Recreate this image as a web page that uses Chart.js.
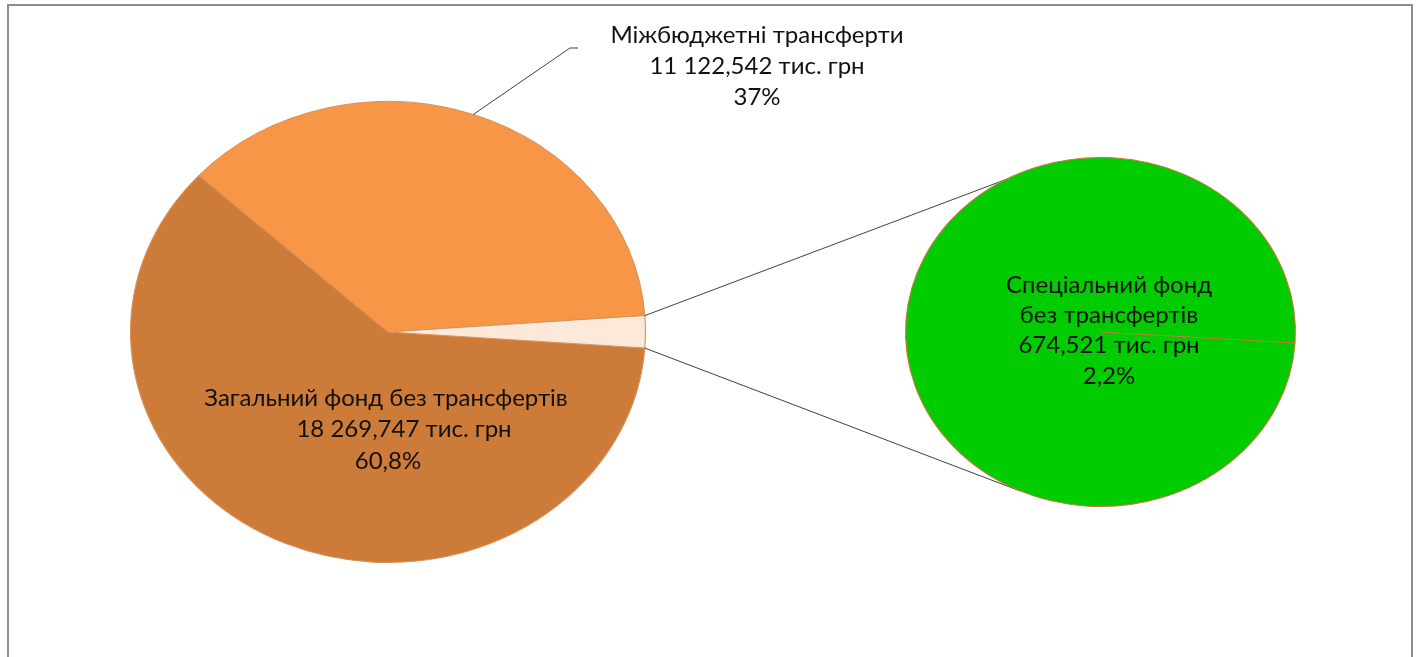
<!DOCTYPE html>
<html lang="uk">
<head>
<meta charset="utf-8">
<script src="https://cdn.jsdelivr.net/npm/chart.js@4"></script>
<style>
  html, body { margin:0; padding:0; background:#fff; overflow:hidden; }
  #wrap { position:relative; width:1421px; height:657px; }
  #wrap canvas { position:absolute; left:0; top:0; }
  #ramka { position:absolute; left:7px; top:4px; width:1406px; height:720px; border:2px solid #8c8c8c; box-sizing:border-box; }
</style>
</head>
<body>
<div id="wrap">
  <div id="ramka"></div>
  <canvas id="pieLeft" width="1421" height="657"></canvas>
  <canvas id="pieRight" width="1421" height="657"></canvas>
</div>
<script>
// дані
const categories = ['Загальний фонд без трансфертів', 'Міжбюджетні трансферти', 'Спеціальний фонд без трансфертів'];
const values = [18269.747, 11122.542, 674.521];
const valueLabels = ['18 269,747 тис. грн', '11 122,542 тис. грн', '674,521 тис. грн'];
const percentLabels = ['60,8%', '37%', '2,2%'];
const colors = ['#CD7B38', '#F79646', '#FDE9D9'];
const colorSecond = '#00CC00';

const SX = 1.117;          // діаграма в Excel трохи розтягнута по горизонталі
const FONT = '24px Lato, "Open Sans", sans-serif';
const TEXT = '#111';

function edge(arc, ang) {
  return [arc.x + Math.cos(ang) * arc.outerRadius * SX, arc.y + Math.sin(ang) * arc.outerRadius];
}

function writeLines(ctx, lines, x, y, lh, dx) {
  ctx.save();
  ctx.font = FONT;
  ctx.fillStyle = TEXT;
  ctx.textAlign = 'center';
  ctx.textBaseline = 'middle';
  const y0 = y - (lines.length - 1) * lh / 2;
  lines.forEach((t, i) => ctx.fillText(t, x + (dx ? dx[i] : 0), y0 + i * lh));
  ctx.restore();
}

// еліпс замість кола
const stretch = {
  id: 'stretch',
  beforeDatasetsDraw(chart) {
    const a = chart.getDatasetMeta(0).data[0];
    const ctx = chart.ctx;
    ctx.save();
    ctx.translate(a.x, a.y);
    ctx.scale(SX, 1);
    ctx.translate(-a.x, -a.y);
  },
  afterDatasetsDraw(chart) {
    chart.ctx.restore();
  }
};

const leftLabels = {
  id: 'leftLabels',
  afterDatasetsDraw(chart) {
    const ctx = chart.ctx;
    const arcs = chart.getDatasetMeta(0).data;
    const c = arcs[0];
    writeLines(ctx, [categories[0], valueLabels[0], percentLabels[0]], c.x - 2, c.y + 97.5, 31.5, [0, 18, 2]);

    // винесений підпис з лінією
    const o = arcs[1];
    const [px, py] = edge(o, (o.startAngle + o.endAngle) / 2);
    const ex = c.x + 182, ey = c.y - 284;
    ctx.save();
    ctx.strokeStyle = '#404040';
    ctx.lineWidth = 1;
    ctx.beginPath();
    ctx.moveTo(px, py);
    ctx.lineTo(ex, ey);
    ctx.lineTo(ex + 8, ey);
    ctx.stroke();
    ctx.restore();
    writeLines(ctx, [categories[1], valueLabels[1], percentLabels[1]], ex + 187, ey + 18, 31);
  }
};

const leftChart = new Chart(document.getElementById('pieLeft'), {
  type: 'pie',
  data: {
    labels: categories,
    datasets: [{
      data: values,
      backgroundColor: colors,
      borderColor: '#D9905A',
      borderWidth: 1,
      hoverOffset: 0
    }]
  },
  options: {
    responsive: false,
    animation: false,
    events: [],
    rotation: 94,
    layout: { padding: { left: 157, right: 802, top: 101, bottom: 94 } },
    plugins: { legend: { display: false }, tooltip: { enabled: false } }
  },
  plugins: [stretch, leftLabels]
});

// лінії від малого сектора до другої діаграми
const connectors = {
  id: 'connectors',
  beforeDatasetsDraw(chart) {
    const small = leftChart.getDatasetMeta(0).data[2];
    const big = chart.getDatasetMeta(0).data[0];
    const a1 = edge(small, small.startAngle);
    const a2 = edge(small, small.endAngle);
    const b1 = edge(big, -119.2 * Math.PI / 180);
    const b2 = edge(big, 114.3 * Math.PI / 180);
    const ctx = chart.ctx;
    ctx.save();
    ctx.strokeStyle = '#404040';
    ctx.lineWidth = 1;
    ctx.beginPath();
    ctx.moveTo(a1[0], a1[1]);
    ctx.lineTo(b1[0], b1[1]);
    ctx.moveTo(a2[0], a2[1]);
    ctx.lineTo(b2[0], b2[1]);
    ctx.stroke();
    ctx.restore();
  }
};

const rightLabels = {
  id: 'rightLabels',
  afterDatasetsDraw(chart) {
    const c = chart.getDatasetMeta(0).data[0];
    writeLines(chart.ctx, ['Спеціальний фонд', 'без трансфертів', valueLabels[2], percentLabels[2]], c.x + 8.5, c.y - 1.5, 30.3);
  }
};

new Chart(document.getElementById('pieRight'), {
  type: 'pie',
  data: {
    labels: [categories[2]],
    datasets: [{
      data: [values[2]],
      backgroundColor: [colorSecond],
      borderColor: '#C8783C',
      borderWidth: 1,
      hoverOffset: 0
    }]
  },
  options: {
    responsive: false,
    animation: false,
    events: [],
    rotation: 93.6,
    layout: { padding: { left: 925.5, right: 145.5, top: 157, bottom: 150 } },
    plugins: { legend: { display: false }, tooltip: { enabled: false } }
  },
  plugins: [connectors, stretch, rightLabels]
});
</script>
</body>
</html>
